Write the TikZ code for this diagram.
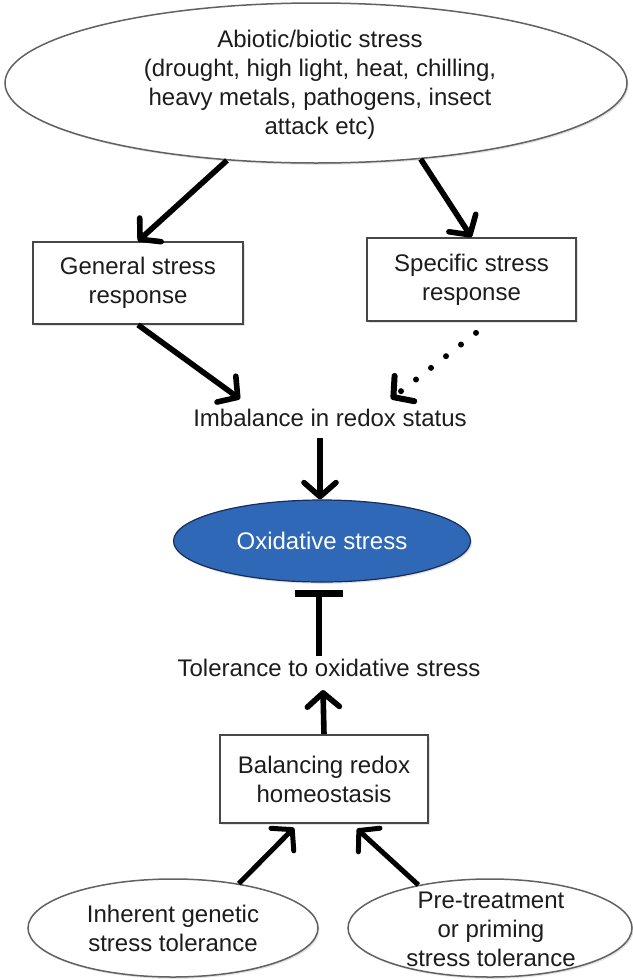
\documentclass[tikz,border=0pt]{standalone}
\usepackage{fontspec}
\setmainfont{Liberation Sans}
\usetikzlibrary{arrows.meta,shapes.geometric,calc,shadows}
\definecolor{oxblue}{RGB}{46,104,182}
\definecolor{oxedge}{RGB}{25,45,90}
\definecolor{txt}{RGB}{28,28,28}
\begin{document}
\begin{tikzpicture}[x=1pt,y=-1pt,
  every node/.style={font=\fontsize{24}{29}\selectfont, text=txt},
  shad/.style={drop shadow={shadow xshift=1.5pt,shadow yshift=-1.8pt,opacity=0.22}},
  boxnode/.style={draw=black!72, line width=1.7pt, fill=white, inner sep=0pt, align=center, shad},
  ellnode/.style={ellipse, draw=black!62, line width=1.5pt, fill=white, inner sep=0pt, align=center, shad},
  lbl/.style={inner sep=3pt, align=center},
  arr/.style={line width=5.6pt, -{Straight Barb[length=14pt,width=32pt,round]}},
  dotarr/.style={arr, line width=6pt, dash pattern=on 0pt off 19pt, line cap=round},
]
\useasboundingbox (0,0) rectangle (632,980);

% nodes
\node[ellnode, minimum width=622pt, minimum height=160pt] (stress) at (316,83) {};
\node[lbl] (stresstext) at (320,85) {Abiotic/biotic stress\\(drought, high light, heat, chilling,\\heavy metals, pathogens, insect\\attack etc)};

\node[boxnode, minimum width=210pt, minimum height=82pt] (gen) at (138,283) {General stress\\response};
\node[boxnode, minimum width=209pt, minimum height=83pt] (spec) at (471.5,279.5) {Specific stress\\response};

\node[lbl] (imb) at (330,418) {Imbalance in redox status};

\node[ellipse, fill=oxblue, draw=oxedge, line width=1.2pt, inner sep=0pt,
      minimum width=297pt, minimum height=82pt, text=white, shad] (ox) at (322,541) {Oxidative stress};

\node[lbl] (tol) at (329,668) {Tolerance to oxidative stress};

\node[boxnode, minimum width=208pt, minimum height=88pt] (bal) at (324,779) {Balancing redox\\homeostasis};

\node[ellnode, minimum width=290pt, minimum height=98pt] (inh) at (173,928) {Inherent genetic\\stress tolerance};
\node[ellnode, minimum width=284pt, minimum height=98pt] (pre) at (490,928) {};
\node[lbl] (pretext) at (491,929) {Pre-treatment\\or priming\\stress tolerance};

% connectors
\draw[arr] (stress.221) -- (gen.north);
\draw[arr] (stress.324) -- (spec.north);
\draw[arr] (gen.south) -- ($(imb.north)+(-90,-7)$);
\draw[dotarr] ($(spec.south)+(4.5,11)$) -- ($(imb.north)+(61,-7)$);
\draw[arr] ($(imb.south -| ox.north)+(-2,8)$) -- ($(ox.north)+(-2,0)$);

% inhibition (T-bar)
\draw[line width=5.2pt] ($(tol.north -| ox.south)+(-3,0)$) -- ($(ox.south)+(-3,11)$);
\draw[line width=7.5pt] ($(ox.south)+(-27,11)$) -- ($(ox.south)+(21,11)$);

\draw[arr] (bal.north) -- ($(tol.south)+(-6,10)$);
\draw[arr, line width=5pt] (inh.34) -- ($(bal.south)+(-30,4)$);
\draw[arr, line width=5pt] (pre.149) -- ($(bal.south)+(33,5)$);
\end{tikzpicture}
\end{document}
